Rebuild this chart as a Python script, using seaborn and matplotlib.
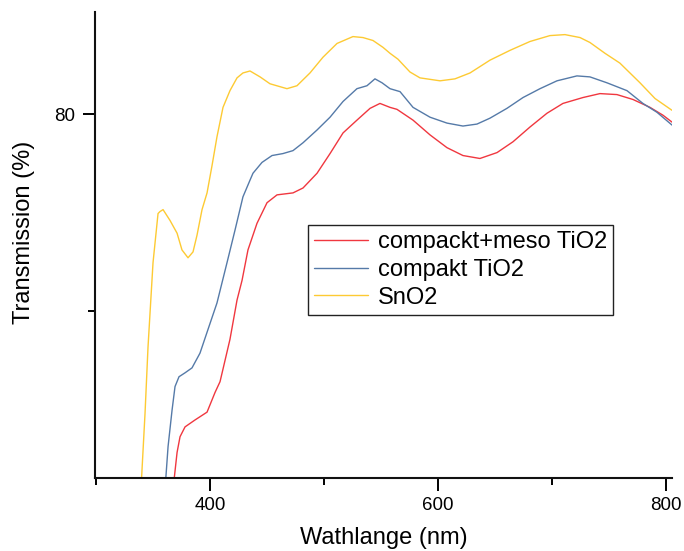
import matplotlib
matplotlib.use("Agg")
import matplotlib.pyplot as plt
import seaborn as sns
import pandas as pd
from matplotlib.ticker import FixedLocator

# ---- data ----
sno2_nm = [339.5, 343.0, 345.6, 350.0, 354.4, 356.1, 358.8, 364.9, 371.1, 375.4, 380.7, 385.1,
           388.6, 393.0, 397.4, 401.8, 406.1, 411.4, 417.5, 423.7, 428.9, 435.1, 443.9, 452.6,
           467.5, 476.3, 487.7, 499.1, 511.4, 525.4, 534.2, 543.0, 551.8, 557.9, 564.9, 575.4,
           584.2, 601.8, 614.9, 628.1, 645.6, 663.2, 680.7, 698.2, 711.4, 724.6, 733.3, 746.5,
           759.6, 777.2, 790.4, 805.3]
sno2_T = [42.0, 49.6, 56.3, 64.9, 69.9, 70.1, 70.3, 69.2, 67.9, 66.2, 65.4, 66.0,
          67.7, 70.3, 72.0, 74.8, 77.7, 80.7, 82.4, 83.7, 84.2, 84.4, 83.8, 83.1,
          82.6, 82.9, 84.2, 85.8, 87.2, 87.9, 87.8, 87.5, 86.8, 86.2, 85.6, 84.3,
          83.7, 83.4, 83.6, 84.2, 85.5, 86.5, 87.4, 88.0, 88.1, 87.8, 87.3, 86.2,
          85.2, 83.2, 81.6, 80.4]

tio2_nm = [360.5, 363.2, 366.7, 369.3, 372.8, 378.1, 384.2, 391.2, 398.2, 406.1, 414.9, 421.9,
           428.9, 435.1, 437.7, 445.6, 454.4, 464.0, 472.8, 481.6, 493.9, 505.3, 516.7, 528.9,
           537.7, 544.7, 550.9, 557.9, 566.7, 578.1, 593.0, 607.9, 621.9, 634.2, 645.6, 660.5,
           674.6, 689.5, 704.4, 721.9, 733.3, 748.2, 765.8, 779.8, 792.1, 805.3]
tio2_T = [41.8, 46.2, 49.9, 52.3, 53.3, 53.7, 54.2, 55.7, 58.1, 60.8, 64.9, 68.2,
          71.6, 73.3, 74.0, 75.1, 75.8, 76.0, 76.3, 77.1, 78.4, 79.7, 81.3, 82.6,
          82.9, 83.6, 83.2, 82.6, 82.3, 80.7, 79.7, 79.1, 78.8, 79.0, 79.6, 80.6,
          81.7, 82.6, 83.4, 83.9, 83.8, 83.2, 82.4, 81.1, 80.2, 78.9]

meso_nm = [367.5, 371.1, 373.7, 378.1, 386.8, 397.4, 404.4, 408.8, 417.5, 423.7, 428.1, 433.3,
           441.2, 450.0, 458.8, 472.8, 481.6, 493.9, 505.3, 516.7, 528.9, 540.4, 549.1, 557.9,
           564.0, 578.1, 593.0, 607.9, 621.9, 636.8, 651.8, 665.8, 680.7, 695.6, 709.6, 727.2,
           742.1, 757.0, 771.1, 786.0, 797.4, 805.3]
meso_T = [41.8, 45.6, 47.2, 48.2, 48.9, 49.7, 51.7, 52.8, 57.1, 61.1, 63.1, 66.2,
          68.9, 71.0, 71.8, 72.0, 72.5, 74.0, 76.0, 78.1, 79.4, 80.6, 81.1, 80.7,
          80.5, 79.4, 77.9, 76.6, 75.8, 75.5, 76.1, 77.2, 78.7, 80.1, 81.1, 81.7,
          82.1, 82.0, 81.5, 80.7, 79.9, 79.2]

labels = ["compackt+meso TiO2", "compakt TiO2", "SnO2"]
x_major = [400, 600, 800]
x_minor = [300, 500, 700]
y_major = [80]
y_minor = [60]

df = pd.concat([
    pd.DataFrame({"nm": meso_nm, "T": meso_T, "s": labels[0]}),
    pd.DataFrame({"nm": tio2_nm, "T": tio2_T, "s": labels[1]}),
    pd.DataFrame({"nm": sno2_nm, "T": sno2_T, "s": labels[2]}),
], ignore_index=True)

sns.set_style("ticks")
plt.rcParams["font.family"] = ["Liberation Sans", "DejaVu Sans"]
plt.rcParams["text.color"] = "black"
plt.rcParams["axes.labelcolor"] = "black"

fig = plt.figure(figsize=(6.84, 5.51), dpi=100)
ax = fig.add_axes([95/684, 73/551, 577/684, 466/551])

palette = {labels[0]: "#f0373f", labels[1]: "#557aa8", labels[2]: "#fdca33"}
sns.lineplot(data=df, x="nm", y="T", hue="s", hue_order=labels, palette=palette,
             sort=False, estimator=None, linewidth=1.0, ax=ax)

ax.set_xlim(299.1, 805.3)
ax.set_ylim(43.0, 90.4)
ax.xaxis.set_major_locator(FixedLocator(x_major))
ax.xaxis.set_minor_locator(FixedLocator(x_minor))
ax.yaxis.set_major_locator(FixedLocator(y_major))
ax.yaxis.set_minor_locator(FixedLocator(y_minor))
ax.tick_params(axis="both", which="major", direction="out", length=9, width=1.4,
               labelsize=13.5, colors="black", pad=5)
ax.tick_params(axis="both", which="minor", direction="out", length=5, width=1.4,
               colors="black")
for side in ["top", "right"]:
    ax.spines[side].set_visible(False)
for side in ["left", "bottom"]:
    ax.spines[side].set_linewidth(1.5)
    ax.spines[side].set_color("#111111")

ax.set_xlabel("Wathlange (nm)", fontsize=17, labelpad=9, color="black")
ax.set_ylabel("Transmission (%)", fontsize=17, color="black")
ax.yaxis.set_label_coords((35 - 95) / 577, (478 - 232) / 466)

leg = ax.legend(loc="upper left", bbox_to_anchor=((308-95)/577, (478-225)/466),
                borderaxespad=0, fontsize=17, frameon=True, fancybox=False,
                handlelength=2.3, handletextpad=0.4, borderpad=0.25, labelspacing=0.25)
leg.get_frame().set_edgecolor("#222222")
leg.get_frame().set_linewidth(1.0)
leg.get_frame().set_alpha(1)
for t in leg.get_texts():
    t.set_color("black")

fig.savefig("out.png", dpi=100)
